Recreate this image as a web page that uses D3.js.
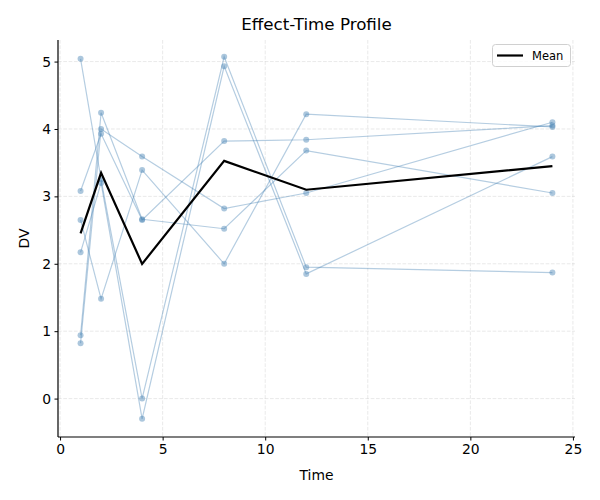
<!DOCTYPE html>
<html>
<head>
<meta charset="utf-8">
<script src="https://cdn.jsdelivr.net/npm/d3@7"></script>
<style>
  body { margin: 0; background: #fff; }
  text { font-family: "DejaVu Sans", sans-serif; }
</style>
</head>
<body>
<svg id="chart" width="600" height="500"></svg>
<script>
// ---- data ----
const times = [1, 2, 4, 8, 12, 24];
const subjectA = [5.04, 3.25, 0.00, 5.07, 1.95, 1.87];
const subjectB = [2.17, 3.20, -0.30, 4.93, 1.85, 3.59];
const subjectC = [0.82, 4.00, 3.59, 2.82, 3.05, 4.10];
const subjectD = [2.65, 1.48, 3.39, 2.00, 4.22, 4.03];
const subjectE = [0.94, 4.24, 2.66, 2.52, 3.68, 3.05];
const subjectF = [3.08, 3.93, 2.65, 3.82, 3.84, 4.05];
const xTicks = [0, 5, 10, 15, 20, 25];
const yTicks = [0, 1, 2, 3, 4, 5];

const subjects = [subjectA, subjectB, subjectC, subjectD, subjectE, subjectF];
const meanValues = times.map((t, i) => d3.mean(subjects, s => s[i]));

// ---- layout ----
const svg = d3.select("#chart");
const margin = { left: 58, right: 25, top: 40, bottom: 63 };
const W = 600, H = 500;
const x = d3.scaleLinear().domain([-0.1, 25.15]).range([margin.left, W - margin.right + 1]);
const y = d3.scaleLinear().domain([-0.57, 5.32]).range([H - margin.bottom, margin.top]);

// grid
const grid = svg.append("g");
grid.selectAll("line.vx").data(xTicks).enter().append("line")
  .attr("x1", d => x(d)).attr("x2", d => x(d))
  .attr("y1", margin.top).attr("y2", H - margin.bottom)
  .attr("stroke", "#b0b0b0").attr("stroke-opacity", 0.35)
  .attr("stroke-dasharray", "3.7,1.6").attr("stroke-width", 0.8);
grid.selectAll("line.hy").data(yTicks).enter().append("line")
  .attr("y1", d => y(d)).attr("y2", d => y(d))
  .attr("x1", margin.left).attr("x2", W - margin.right)
  .attr("stroke", "#b0b0b0").attr("stroke-opacity", 0.35)
  .attr("stroke-dasharray", "3.7,1.6").attr("stroke-width", 0.8);

// subject lines
const line = d3.line().x((d, i) => x(times[i])).y(d => y(d));
const subj = svg.append("g");
subjects.forEach(s => {
  subj.append("path").datum(s).attr("d", line)
    .attr("fill", "none").attr("stroke", "steelblue")
    .attr("stroke-opacity", 0.4).attr("stroke-width", 1.2);
  subj.selectAll(null).data(s).enter().append("circle")
    .attr("cx", (d, i) => x(times[i])).attr("cy", d => y(d))
    .attr("r", 3).attr("fill", "steelblue").attr("fill-opacity", 0.45);
});

// mean line
svg.append("path").datum(meanValues).attr("d", line)
  .attr("fill", "none").attr("stroke", "#000").attr("stroke-width", 2.2);

// axes
const xAxis = d3.axisBottom(x).tickValues(xTicks).tickFormat(d3.format("d")).tickSize(3.5).tickPadding(3.5);
const yAxis = d3.axisLeft(y).tickValues(yTicks).tickFormat(d3.format("d")).tickSize(3.5).tickPadding(3.5);
const gx = svg.append("g").attr("transform", `translate(0,${H - margin.bottom})`).call(xAxis);
const gy = svg.append("g").attr("transform", `translate(${margin.left},0)`).call(yAxis);
[gx, gy].forEach(g => {
  g.select(".domain").attr("stroke", "#000").attr("stroke-width", 1.2)
    .attr("d", g === gx ? `M${margin.left},0H${W - margin.right}` : `M0,${margin.top}V${H - margin.bottom}`);
  g.selectAll(".tick line").attr("stroke", "#000").attr("stroke-width", 1);
  g.selectAll(".tick text").attr("font-size", 13.9).attr("fill", "#000")
    .attr("font-family", "DejaVu Sans, sans-serif");
});

// labels
svg.append("text").attr("x", (margin.left + W - margin.right) / 2).attr("y", 480)
  .attr("text-anchor", "middle").attr("font-size", 13.9).text("Time");
svg.append("text").attr("transform", `translate(29,${(margin.top + H - margin.bottom) / 2}) rotate(-90)`)
  .attr("text-anchor", "middle").attr("font-size", 13.9).text("DV");
svg.append("text").attr("x", (margin.left + W - margin.right) / 2).attr("y", 30)
  .attr("text-anchor", "middle").attr("font-size", 16.7).text("Effect-Time Profile");

// legend
const lg = svg.append("g");
lg.append("rect").attr("x", 492.5).attr("y", 44.5).attr("width", 78).attr("height", 22)
  .attr("rx", 3).attr("fill", "#fff").attr("fill-opacity", 0.8)
  .attr("stroke", "#d0d0d0").attr("stroke-width", 1);
lg.append("line").attr("x1", 497).attr("x2", 523).attr("y1", 55.5).attr("y2", 55.5)
  .attr("stroke", "#000").attr("stroke-width", 2.2);
lg.append("text").attr("x", 532).attr("y", 59.7).attr("font-size", 11.5).text("Mean");
</script>
</body>
</html>
